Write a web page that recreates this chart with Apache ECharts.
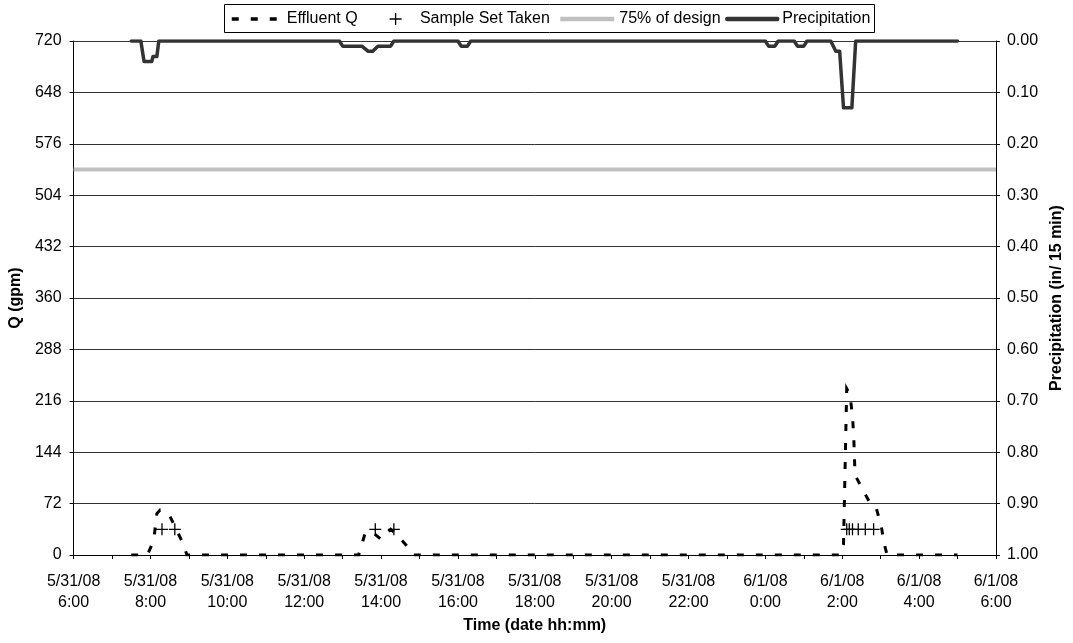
<!DOCTYPE html>
<html>
<head>
<meta charset="utf-8">
<script src="https://cdn.jsdelivr.net/npm/echarts@6/dist/echarts.min.js"></script>
<style>html,body{margin:0;padding:0;background:#fff;}#c{width:1073px;height:643px;}</style>
</head>
<body>
<div id="c"></div>
<script>
// ---- data ----
const tickLabels = ['5/31/08\n6:00','5/31/08\n8:00','5/31/08\n10:00','5/31/08\n12:00','5/31/08\n14:00',
  '5/31/08\n16:00','5/31/08\n18:00','5/31/08\n20:00','5/31/08\n22:00','6/1/08\n0:00','6/1/08\n2:00',
  '6/1/08\n4:00','6/1/08\n6:00'];

const effluentTimes = ['5/31 07:30','5/31 07:55','5/31 08:05','5/31 08:10','5/31 08:15','5/31 08:20',
  '5/31 08:30','5/31 08:40','5/31 08:50','5/31 08:57','5/31 13:25','5/31 13:35','5/31 13:45',
  '5/31 14:00','5/31 14:15','5/31 14:25','5/31 14:45','5/31 14:50','6/1 01:57','6/1 02:02',
  '6/1 02:07','6/1 02:12','6/1 02:16','6/1 02:18','6/1 02:20','6/1 02:30','6/1 02:45','6/1 02:53',
  '6/1 03:01','6/1 03:06','6/1 03:10','6/1 05:00'];
const effluentQ = [0,0,20,58,63,61,55,36,18,0,0,30,33,22,36,28,8,0,0,15,
  233,225,195,165,112,95,70,66,40,14,0,0];

const sampleTimes = ['5/31 08:18','5/31 08:38','5/31 13:51','5/31 14:20','6/1 02:07','6/1 02:11',
  '6/1 02:16','6/1 02:25','6/1 02:36','6/1 02:49'];
const sampleQ = [36,36,36,36,36,36,36,36,36,36];

const designQ = 540; // 75% of design (of 720 gpm)

const precipTimes = ['5/31 07:30','5/31 07:45','5/31 07:50','5/31 08:02','5/31 08:04','5/31 08:10',
  '5/31 08:13','5/31 12:55','5/31 13:00','5/31 13:30','5/31 13:40','5/31 13:47','5/31 13:55',
  '5/31 14:15','5/31 14:20','5/31 16:00','5/31 16:05','5/31 16:15','5/31 16:20','6/1 00:00',
  '6/1 00:05','6/1 00:15','6/1 00:20','6/1 00:45','6/1 00:50','6/1 01:00','6/1 01:05',
  '6/1 01:42','6/1 01:50','6/1 01:56','6/1 02:02','6/1 02:15','6/1 02:21','6/1 05:00'];
const precipIn = [0,0,0.04,0.04,0.03,0.03,0,0,0.01,0.01,0.02,0.02,0.01,0.01,0,
  0,0.01,0.01,0,0,0.01,0.01,0,0,0.01,0.01,0,0,0.02,0.02,0.13,0.13,0,0];

// ---- helpers ----
function toHours(s) {
  const parts = s.split(' ');
  const hm = parts[1].split(':').map(Number);
  return (parts[0] === '6/1' ? 24 : 0) + hm[0] + hm[1] / 60 - 6;
}
function pairs(times, vals) { return times.map((t, i) => [toHours(t), vals[i]]); }

const FONT = 'Liberation Sans, Arial, sans-serif';
const plusPath = 'path://M0,5.35H12V6.65H0Z M5.35,0H6.65V12H5.35Z';

const chart = echarts.init(document.getElementById('c'), null, {renderer: 'canvas'});
const legendBase = {
  orient: 'horizontal', top: 11, padding: 0, selectedMode: false,
  itemHeight: 14, textStyle: {fontSize: 16, fontFamily: FONT, color: '#000'}
};
chart.setOption({
  animation: false,
  backgroundColor: '#fff',
  textStyle: {fontFamily: FONT},
  graphic: [{
    type: 'rect', shape: {x: 224.5, y: 4.5, width: 650, height: 28},
    style: {fill: '#fff', stroke: '#000', lineWidth: 1}, z: 0
  }],
  legend: [
    Object.assign({}, legendBase, {left: 230, itemWidth: 50, data: ['Effluent Q'],
      itemStyle: {opacity: 0}, lineStyle: {width: 3.5, color: '#000', type: [7, 12], cap: 'butt'}}),
    Object.assign({}, legendBase, {left: 389.6, itemWidth: 12, itemHeight: 12, data: ['Sample Set Taken'],
      formatter: '   {name}'}),
    Object.assign({}, legendBase, {left: 558, itemWidth: 54, data: ['75% of design'],
      itemStyle: {opacity: 0}, lineStyle: {width: 4.5, color: '#c0c0c0', type: 'solid'}}),
    Object.assign({}, legendBase, {left: 725, itemWidth: 50, data: ['Precipitation'],
      itemStyle: {opacity: 0}, lineStyle: {width: 4.5, color: '#333', type: 'solid', cap: 'round'}})
  ],
  grid: {left: 73, right: 71, top: 41, bottom: 88, containLabel: false},
  xAxis: {
    type: 'value', min: 0, max: 24, interval: 1,
    name: 'Time (date hh:mm)', nameLocation: 'middle', nameGap: 57,
    nameTextStyle: {fontSize: 16, fontWeight: 'bold', color: '#000', fontFamily: FONT},
    axisLine: {show: true, onZero: false, lineStyle: {color: '#000', width: 1}},
    axisTick: {show: true, length: 4, lineStyle: {color: '#000'}},
    axisLabel: {
      margin: 16, fontSize: 16, lineHeight: 21, color: '#000', fontFamily: FONT,
      formatter: v => (Math.round(v) % 2 === 0 ? tickLabels[Math.round(v) / 2] : '')
    },
    splitLine: {show: false}
  },
  yAxis: [{
    type: 'value', min: 0, max: 720, interval: 72, position: 'left',
    name: 'Q (gpm)', nameLocation: 'middle', nameGap: 47, nameRotate: 90,
    nameTextStyle: {fontSize: 16, fontWeight: 'bold', color: '#000', fontFamily: FONT},
    axisLine: {show: true, lineStyle: {color: '#000', width: 1}},
    axisTick: {show: true, length: 4, lineStyle: {color: '#000'}},
    axisLabel: {margin: 12, fontSize: 16, color: '#000', fontFamily: FONT},
    splitLine: {show: true, lineStyle: {color: '#333', width: 1}}
  }, {
    type: 'value', min: 0, max: 1, interval: 0.1, position: 'right', inverse: true,
    name: 'Precipitation (in/ 15 min)', nameLocation: 'middle', nameGap: 50, nameRotate: 90,
    nameTextStyle: {fontSize: 16, fontWeight: 'bold', color: '#000', fontFamily: FONT},
    axisLine: {show: true, lineStyle: {color: '#000', width: 1}},
    axisTick: {show: true, length: 4, lineStyle: {color: '#000'}},
    axisLabel: {margin: 11, fontSize: 16, color: '#000', fontFamily: FONT, formatter: v => v.toFixed(2)},
    splitLine: {show: false}
  }],
  series: [{
    name: 'Effluent Q', type: 'line', yAxisIndex: 0, symbol: 'none', z: 3,
    lineStyle: {color: '#000', width: 3, type: [7, 12], cap: 'butt', join: 'miter'},
    itemStyle: {color: '#000'},
    data: pairs(effluentTimes, effluentQ)
  }, {
    name: 'Sample Set Taken', type: 'scatter', yAxisIndex: 0, symbol: plusPath, symbolSize: 12, z: 4,
    itemStyle: {color: '#000', opacity: 1},
    data: pairs(sampleTimes, sampleQ)
  }, {
    name: '75% of design', type: 'line', yAxisIndex: 0, symbol: 'none', z: 2,
    lineStyle: {color: '#c0c0c0', width: 4},
    itemStyle: {color: '#c0c0c0'},
    data: [[0, designQ], [24, designQ]]
  }, {
    name: 'Precipitation', type: 'line', yAxisIndex: 1, symbol: 'none', z: 5,
    lineStyle: {color: '#333', width: 3.5, join: 'round', cap: 'round'},
    itemStyle: {color: '#333'},
    data: pairs(precipTimes, precipIn)
  }]
});
</script>
</body>
</html>
